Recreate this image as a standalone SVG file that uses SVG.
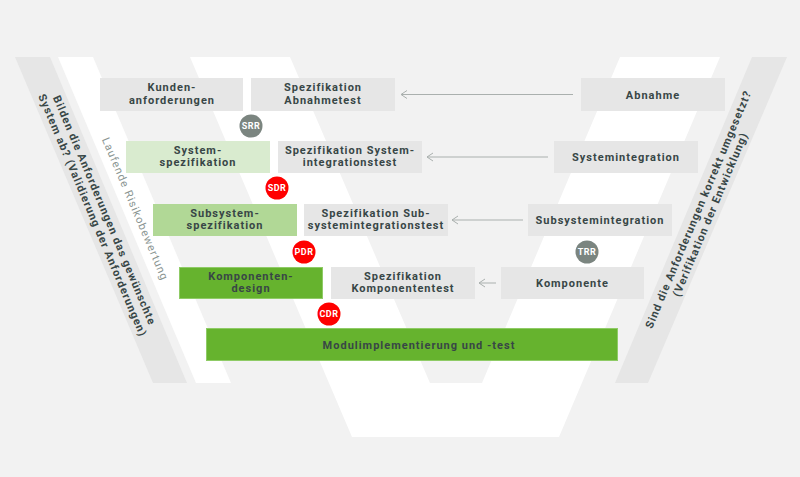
<svg xmlns="http://www.w3.org/2000/svg" width="800" height="477" viewBox="0 0 800 477">
<style>
.bg{fill:#f2f2f2}
.w{fill:#ffffff}
.band{fill:#e6e6e6}
.box{fill:#e6e6e6}
.g1{fill:#d9ebcf}
.g2{fill:#b1d896}
.g3{fill:#66b32e;stroke:#8fcb66;stroke-width:1}
.t{font-family:Roboto,"Liberation Sans",sans-serif;font-weight:bold;font-size:11px;letter-spacing:1px;fill:#384646;text-anchor:middle}
.side{font-family:Roboto,"Liberation Sans",sans-serif;font-weight:bold;font-size:11px;letter-spacing:1px;fill:#384646;text-anchor:middle;dominant-baseline:central}
.risk{font-family:Roboto,"Liberation Sans",sans-serif;font-size:11px;letter-spacing:1px;fill:#8a9592;text-anchor:middle;dominant-baseline:central}
.ct{font-family:Roboto,"Liberation Sans",sans-serif;font-weight:bold;font-size:9px;letter-spacing:0.5px;fill:#ffffff;text-anchor:middle}
.gray{fill:#7b8580}
.red{fill:#ff0000}
.arr{stroke:#aab0ae;stroke-width:1;fill:none}
</style>
<defs>
<marker id="ah" markerWidth="10" markerHeight="10" refX="7" refY="5" orient="auto" markerUnits="userSpaceOnUse">
<path d="M1,1 L7,5 L1,9" fill="none" stroke="#aab0ae" stroke-width="1"/>
</marker>
</defs>
<rect class="bg" x="0" y="0" width="800" height="477"/>
<g id="background">
<polygon class="band" points="15,57 50,57 187,383 153,383"/>
<polygon class="w" points="58,57 93,57 231,383 196,383"/>
<polygon class="w" points="190,57 290,57 430,383 482,383 620,57 720,57 559,437 352,437"/>
<polygon class="band" points="752,57 787,57 648,383 615,383"/>
</g>
<g id="side-labels">
<g transform="translate(98.3,213) rotate(67.1)">
<text class="side" x="0" y="-6.5">Bilden die Anforderungen das gewünschte</text>
<text class="side" x="0" y="6.5">System ab? (Validierung der Anforderungen)</text>
</g>
<g transform="translate(135,209) rotate(67.1)">
<text class="risk" x="0" y="0">Laufende Risikobewertung</text>
</g>
<g transform="translate(704.5,212) rotate(-67.2)">
<text class="side" x="0" y="-6.5">Sind die Anforderungen korrekt umgesetzt?</text>
<text class="side" x="0" y="6.5">(Verifikation der Entwicklung)</text>
</g>
</g>
<g id="connectors">
<line class="arr" x1="573" y1="94.5" x2="401" y2="94.5" marker-end="url(#ah)"/>
<line class="arr" x1="548" y1="157" x2="427" y2="157" marker-end="url(#ah)"/>
<line class="arr" x1="523" y1="220" x2="452" y2="220" marker-end="url(#ah)"/>
<line class="arr" x1="496" y1="283" x2="479" y2="283" marker-end="url(#ah)"/>
</g>
<g id="kundenanforderungen">
<rect class="box" x="100" y="78" width="143" height="33"/>
<text class="t" x="172" y="91">Kunden-</text>
<text class="t" x="172" y="103.5">anforderungen</text>
</g>
<g id="spez-abnahmetest">
<rect class="box" x="251" y="78" width="144" height="33"/>
<text class="t" x="323" y="91">Spezifikation</text>
<text class="t" x="323" y="103.5">Abnahmetest</text>
</g>
<g id="abnahme">
<rect class="box" x="581" y="78" width="144" height="33"/>
<text class="t" x="653" y="98.5">Abnahme</text>
</g>
<g id="systemspezifikation">
<rect class="g1" x="126" y="141" width="144" height="32"/>
<text class="t" x="198" y="153.5">System-</text>
<text class="t" x="198" y="166">spezifikation</text>
</g>
<g id="spez-systemintegrationstest">
<rect class="box" x="278" y="141" width="144" height="32"/>
<text class="t" x="350" y="153.5">Spezifikation System-</text>
<text class="t" x="350" y="166">integrationstest</text>
</g>
<g id="systemintegration">
<rect class="box" x="554" y="141" width="144" height="32"/>
<text class="t" x="626" y="161">Systemintegration</text>
</g>
<g id="subsystemspezifikation">
<rect class="g2" x="153" y="204" width="144" height="32"/>
<text class="t" x="225" y="216.5">Subsystem-</text>
<text class="t" x="225" y="229">spezifikation</text>
</g>
<g id="spez-subsystemintegrationstest">
<rect class="box" x="304" y="204" width="144" height="32"/>
<text class="t" x="376" y="216.5">Spezifikation Sub-</text>
<text class="t" x="376" y="229">systemintegrationstest</text>
</g>
<g id="subsystemintegration">
<rect class="box" x="528" y="204" width="144" height="32"/>
<text class="t" x="600" y="224">Subsystemintegration</text>
</g>
<g id="komponentendesign">
<rect class="g3" x="179.5" y="267.5" width="143" height="31"/>
<text class="t" x="251" y="279.5">Komponenten-</text>
<text class="t" x="251" y="292">design</text>
</g>
<g id="spez-komponententest">
<rect class="box" x="331" y="267" width="144" height="32"/>
<text class="t" x="403" y="279.5">Spezifikation</text>
<text class="t" x="403" y="292">Komponententest</text>
</g>
<g id="komponente">
<rect class="box" x="501" y="267" width="143" height="32"/>
<text class="t" x="572.5" y="287">Komponente</text>
</g>
<g id="modulimplementierung">
<rect class="g3" x="206.5" y="328.5" width="411" height="32"/>
<text class="t" x="419" y="348.5">Modulimplementierung und -test</text>
</g>
<g id="srr">
<circle class="gray" cx="251" cy="126" r="11.5"/>
<text class="ct" x="251" y="129.2">SRR</text>
</g>
<g id="sdr">
<circle class="red" cx="277" cy="188" r="11.5"/>
<text class="ct" x="277" y="191.2">SDR</text>
</g>
<g id="pdr">
<circle class="red" cx="304" cy="252" r="11.5"/>
<text class="ct" x="304" y="255.2">PDR</text>
</g>
<g id="cdr">
<circle class="red" cx="329" cy="314" r="11.5"/>
<text class="ct" x="329" y="317.2">CDR</text>
</g>
<g id="trr">
<circle class="gray" cx="587" cy="252" r="11.5"/>
<text class="ct" x="587" y="255.2">TRR</text>
</g>
</svg>
